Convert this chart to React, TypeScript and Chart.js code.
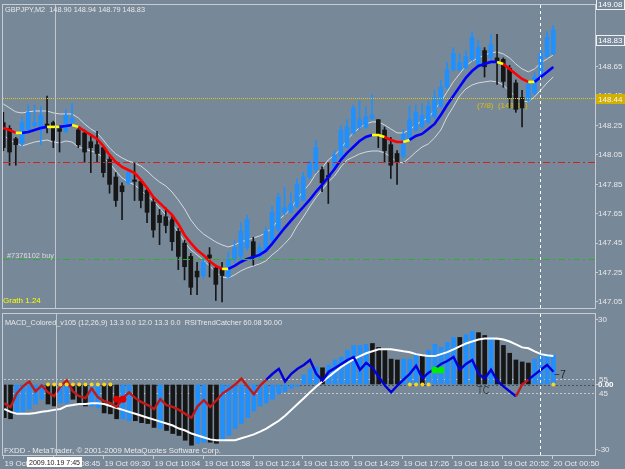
import React, { useEffect, useRef } from "react";
import { Chart, registerables } from "chart.js";

Chart.register(...registerables);

// ---------------- data ----------------
const opens = [148.27,148.23,148.16,148.13,148.22,148.25,148.22,148.26,148.27,148.23,
 148.21,148.27,148.22,148.20,148.14,148.12,148.10,148.02,147.90,147.84,
 147.86,147.88,147.87,147.81,147.73,147.64,147.63,147.61,147.53,147.45,
 147.36,147.26,147.23,147.37,147.28,147.28,147.22,147.34,147.36,147.42,
 147.46,147.36,147.40,147.47,147.54,147.66,147.66,147.70,147.74,147.90,
 147.95,147.95,147.91,147.97,148.04,148.10,148.20,148.24,148.24,148.30,
 148.29,148.22,148.12,148.06,148.04,148.15,148.22,148.24,148.27,148.31,
 148.38,148.51,148.63,148.63,148.64,148.70,148.66,148.76,148.71,148.71,
 148.70,148.64,148.54,148.44,148.42,148.47,148.58,148.72,148.74];
const highs = [148.34,148.25,148.17,148.31,148.39,148.39,148.38,148.45,148.28,148.25,
 148.36,148.40,148.23,148.22,148.19,148.21,148.10,148.04,147.93,147.86,
 147.95,148.00,147.88,147.83,147.76,147.68,147.69,147.64,147.55,147.47,
 147.38,147.32,147.35,147.42,147.30,147.32,147.39,147.47,147.59,147.64,
 147.49,147.45,147.56,147.70,147.79,147.83,147.79,147.89,147.93,148.01,
 148.15,147.97,148.00,148.08,148.25,148.29,148.39,148.42,148.38,148.46,
 148.29,148.24,148.17,148.08,148.22,148.38,148.39,148.40,148.42,148.49,
 148.56,148.68,148.78,148.74,148.76,148.89,148.83,148.78,148.87,148.87,
 148.71,148.66,148.56,148.49,148.55,148.61,148.78,148.89,148.93];
const lows = [148.08,147.98,147.98,148.11,148.20,148.24,148.12,148.20,148.10,148.07,
 148.20,148.25,148.10,148.00,147.93,148.00,147.90,147.79,147.70,147.61,
 147.85,147.74,147.69,147.59,147.49,147.44,147.52,147.40,147.27,147.20,
 147.10,147.10,147.21,147.22,147.06,147.05,147.21,147.32,147.34,147.40,
 147.30,147.35,147.39,147.46,147.53,147.64,147.66,147.69,147.74,147.89,
 147.93,147.80,147.72,147.96,148.03,148.10,148.19,148.22,148.23,148.29,
 148.10,148.00,147.89,147.85,148.03,148.15,148.21,148.23,148.26,148.30,
 148.37,148.50,148.62,148.62,148.64,148.69,148.66,148.58,148.70,148.53,
 148.51,148.37,148.34,148.24,148.41,148.46,148.57,148.71,148.73];
const closes = [148.10,148.07,148.12,148.27,148.34,148.27,148.32,148.25,148.15,148.21,
 148.32,148.30,148.12,148.07,148.10,148.06,147.93,147.85,147.74,147.80,
 147.93,147.87,147.74,147.66,147.54,147.59,147.57,147.46,147.36,147.29,
 147.15,147.22,147.32,147.35,147.17,147.23,147.34,147.42,147.53,147.61,
 147.36,147.42,147.53,147.66,147.76,147.69,147.72,147.85,147.90,148.00,
 148.10,147.86,147.90,148.05,148.22,148.24,148.37,148.29,148.31,148.32,
 148.19,148.08,147.98,148.00,148.19,148.29,148.34,148.32,148.38,148.44,
 148.51,148.63,148.74,148.68,148.72,148.85,148.78,148.65,148.80,148.68,
 148.55,148.44,148.36,148.37,148.53,148.58,148.74,148.85,148.90];

const maLine = [148.234,148.220,148.200,148.200,148.206,148.220,148.234,148.241,148.241,148.241,
 148.247,148.254,148.241,148.213,148.186,148.159,148.111,148.050,148.002,147.968,
 147.948,147.928,147.880,147.826,147.764,147.724,147.683,147.642,147.581,147.506,
 147.451,147.404,147.370,147.329,147.295,147.275,147.275,147.295,147.322,147.343,
 147.356,147.370,147.397,147.445,147.499,147.553,147.601,147.649,147.696,147.744,
 147.798,147.846,147.900,147.955,148.016,148.064,148.104,148.145,148.172,148.186,
 148.186,148.172,148.152,148.138,148.138,148.152,148.179,148.193,148.227,148.261,
 148.322,148.390,148.451,148.513,148.574,148.621,148.655,148.669,148.683,148.683,
 148.669,148.635,148.601,148.567,148.547,148.547,148.581,148.615,148.649];
// R = falling (red), B = rising (blue), Y = turn (yellow); one letter per segment
const maTrend = "RRYBBBBYYBBY" + "RRRRRRRRRRRRRRRRRRRRRRR" + "Y" + "BBBBBBBBBBBBBBBBBBBBBBB" + "YYRRRY" + "BBBBBBBBBBBBBB" + "YRRRRYBBB";
const bandUpper = [148.397,148.370,148.343,148.336,148.343,148.349,148.349,148.349,148.336,148.329,
 148.329,148.329,148.302,148.261,148.227,148.200,148.152,148.098,148.057,148.030,
 148.009,147.996,147.975,147.941,147.900,147.866,147.839,147.798,147.744,147.683,
 147.608,147.553,147.513,147.485,147.458,147.438,147.424,147.438,147.458,147.472,
 147.485,147.499,147.519,147.553,147.608,147.642,147.683,147.751,147.805,147.853,
 147.921,147.962,148.016,148.050,148.091,148.152,148.200,148.234,148.261,148.275,
 148.275,148.254,148.227,148.200,148.200,148.220,148.254,148.281,148.302,148.356,
 148.411,148.479,148.547,148.601,148.655,148.689,148.710,148.730,148.744,148.751,
 148.737,148.710,148.669,148.635,148.615,148.635,148.676,148.703,148.730];
const bandLower = [148.186,148.152,148.132,148.111,148.125,148.138,148.145,148.152,148.138,148.132,
 148.145,148.138,148.104,148.091,148.077,148.064,148.030,147.996,147.941,147.894,
 147.866,147.846,147.812,147.771,147.737,147.689,147.642,147.581,147.526,147.458,
 147.404,147.370,147.336,147.295,147.254,147.220,147.213,147.234,147.261,147.281,
 147.295,147.309,147.329,147.370,147.404,147.445,147.492,147.567,147.628,147.696,
 147.758,147.812,147.866,147.907,147.968,148.016,148.036,148.057,148.070,148.077,
 148.077,148.064,148.036,148.002,147.996,148.030,148.070,148.104,148.125,148.166,
 148.220,148.309,148.377,148.451,148.499,148.526,148.540,148.547,148.553,148.547,
 148.526,148.485,148.445,148.417,148.411,148.445,148.492,148.540,148.581];

const macdHist = [-15.3,-15.8,-13.5,-12.6,-11.3,-9.0,-6.8,-9.0,-9.9,-8.6,
 -8.6,-6.8,-8.6,-9.9,-9.9,-10.8,-13.1,-13.5,-15.8,-15.8,
 -16.7,-16.7,-17.6,-18.0,-19.8,-20.3,-21.2,-22.6,-23.5,-25.7,
 -28.0,-27.1,-26.6,-26.6,-27.1,-25.7,-23.5,-20.3,-18.0,-15.3,
 -12.2,-9.9,-8.6,-6.8,-4.5,-3.2,-1.8,-0.9,4.5,7.2,
 8.1,7.7,9.0,11.3,12.6,15.8,18.0,18.0,18.5,18.9,
 17.1,15.8,11.7,11.3,11.7,11.7,14.0,13.1,15.8,18.5,
 17.1,19.4,21.7,21.7,23.0,24.4,23.9,22.6,21.7,20.3,
 18.0,14.4,11.3,10.4,9.9,11.7,13.5,14.0,13.5];
// B = blue bar, K = black bar
const histColor = "KKBBBBBKKB" + "BKKKBBKKKB" + "BKKKKBKKKK" + "KBBKKBBBBB" + "BBBBBBBBBB" + "BKBBBBBBBK" + "KKKKBBBKBB" + "BBBKBBKKBK" + "KKKKKBBBB";
const macdSignal = [-11.3,-12.6,-13.5,-13.5,-13.5,-13.1,-12.6,-12.2,-11.7,-11.3,
 -9.9,-9.5,-9.0,-9.0,-8.6,-8.6,-9.0,-9.9,-10.8,-11.7,
 -12.6,-13.5,-14.4,-15.3,-16.2,-17.1,-18.0,-18.9,-20.3,-21.2,
 -22.6,-23.5,-24.4,-25.3,-25.7,-25.7,-25.7,-25.7,-24.8,-23.9,
 -23.0,-21.7,-20.3,-18.5,-16.7,-14.4,-11.7,-9.0,-6.3,-3.6,
 -0.9,1.4,3.6,5.9,8.1,9.9,11.7,13.1,14.4,15.3,
 16.2,16.2,16.2,15.8,15.3,14.9,14.0,13.5,13.1,13.1,
 14.0,14.9,16.2,17.6,18.9,19.8,20.7,21.2,21.2,21.2,
 20.7,19.8,18.5,17.1,16.7,15.3,14.0,13.5,13.1];
const rsiValues = [38.3,35.7,45.0,49.7,53.0,46.3,50.3,45.7,43.0,49.7,
 53.7,46.3,43.0,41.7,48.3,42.3,39.7,38.3,35.7,41.7,
 45.7,41.7,39.0,37.0,34.3,41.0,37.0,35.7,33.7,31.0,
 28.3,36.3,40.3,35.7,40.3,45.0,47.7,51.0,55.0,49.7,
 44.3,50.3,54.3,58.3,61.7,53.0,58.3,61.7,64.3,67.7,
 58.3,53.7,59.7,62.3,65.0,67.7,69.7,61.0,65.7,62.3,
 56.3,50.3,45.7,50.3,54.3,58.3,63.7,55.0,59.0,61.7,
 65.0,67.0,69.7,61.0,65.0,67.7,58.3,55.0,61.0,53.7,
 49.7,46.3,43.0,51.0,54.3,57.7,61.0,64.3,59.7];
const rsiTrend = "RRRRRRRRRRRRRRRRRRRRRRRRRRRRRRRRRRRRRRRRRR" + "BBBBBBBBBBBBBBBBBBBBBBBBBBBBBBBBBBBBBBBB" + "RR" + "BBBB";

const yellowDotIdx = [7, 8, 9, 10, 11, 12, 13, 14, 15, 16, 17, 65, 66, 67, 68, 88];
const greenDotIdx = [69, 70];
const greenDotRsi = [60.8, 60.8];
const redDotIdx = [18, 19];
const redDotRsi = [41.0, 41.0];

const priceTicks = [147.05, 147.25, 147.45, 147.65, 147.85, 148.05, 148.25, 148.45, 148.65, 148.85, 149.05];
const macdTicks = [-30, 0, 30];
const rsiLevels = [55, 45];
const timeTickIdx = [0, 8, 16, 24, 32, 40, 48, 56, 64, 72, 80, 88];
const timeLabels = ["19 Oct 07:13", "19 Oct 08:45", "19 Oct 09:30", "19 Oct 10:04", "19 Oct 10:58", "19 Oct 12:14",
  "19 Oct 13:05", "19 Oct 14:29", "19 Oct 17:26", "19 Oct 18:16", "19 Oct 20:52", "20 Oct 00:50"];

const boxPrices = [149.08, 148.83];
const bidLevel = 148.44;
const stopLevel = 148.0;
const orderLevel = 147.34;
const crossIdx = 8.3;
const nowIdx = 85.9;

// ---------------- styling ----------------
const BG = "#778899";
const FRAME = "#c8ccd2";
const AXIS_TEXT = "#e8e8e8";
const FONT = '"Liberation Sans", Arial, sans-serif';
const BULL = "#1e90ff";
const BEAR = "#161616";
const BAND = "#d6dadf";
const TREND: Record<string, string> = { R: "#ff0000", B: "#0000ff", Y: "#ffff00" };
const RSI_TREND: Record<string, string> = { R: "#c01a1a", B: "#0000dc" };

const X_MIN = -0.048;
const X_MAX = 94.672;
const P_MIN = 147.009;
const P_MAX = 149.07;
const M_MIN = -32.5;
const M_MAX = 32.5;
const R_MIN = 3;
const R_MAX = 99;

const pts = (arr: number[]) => arr.map((v, i) => ({ x: i, y: v }));

function hLine(ctx: any, a: any, y: number, color: string, dash: number[]) {
  ctx.save();
  ctx.beginPath();
  ctx.setLineDash(dash);
  ctx.strokeStyle = color;
  ctx.lineWidth = 1;
  const yy = Math.round(y) + 0.5;
  ctx.moveTo(a.left, yy);
  ctx.lineTo(a.right, yy);
  ctx.stroke();
  ctx.restore();
}
function vLine(ctx: any, x: number, top: number, bottom: number, color: string, dash: number[]) {
  ctx.save();
  ctx.beginPath();
  ctx.setLineDash(dash);
  ctx.strokeStyle = color;
  ctx.lineWidth = 1;
  const xx = Math.round(x) + 0.5;
  ctx.moveTo(xx, top);
  ctx.lineTo(xx, bottom);
  ctx.stroke();
  ctx.restore();
}
function txt(ctx: any, s: string, x: number, y: number, color: string, size: number, maxW?: number, weight = "normal") {
  ctx.save();
  ctx.font = `${weight} ${size}px ${FONT}`;
  ctx.fillStyle = color;
  ctx.textAlign = "left";
  ctx.textBaseline = "alphabetic";
  if (maxW) ctx.fillText(s, x, y, maxW);
  else ctx.fillText(s, x, y);
  ctx.restore();
}

const mainDecor = {
  id: "mainDecor",
  beforeDatasetsDraw(chart: any) {
    const { ctx, scales } = chart;
    txt(ctx, "(7/8)  (148.44)", scales.x.getPixelForValue(75.8), scales.y.getPixelForValue(bidLevel) + 10, "#dcc000", 8, 52);
  },
  afterDatasetsDraw(chart: any) {
    const { ctx, chartArea: a, scales } = chart;
    const { x, y } = scales;
    hLine(ctx, a, y.getPixelForValue(bidLevel), "#e8c800", [1, 1]);
    hLine(ctx, a, y.getPixelForValue(stopLevel), "#d42020", [7, 3, 2, 3]);
    hLine(ctx, a, y.getPixelForValue(orderLevel), "#2cb02c", [7, 3, 2, 3]);
    vLine(ctx, x.getPixelForValue(crossIdx), a.top, a.bottom, "#c0c6cc", []);
    vLine(ctx, x.getPixelForValue(nowIdx), a.top, a.bottom, "#ffffff", [3, 3]);
    ctx.save();
    ctx.strokeStyle = FRAME;
    ctx.lineWidth = 1;
    ctx.strokeRect(2.5, a.top - 0.5, a.right - 2, a.bottom - a.top + 1);
    ctx.restore();
    txt(ctx, "GBPJPY,M2  148.90 148.94 148.79 148.83", 5, 12, AXIS_TEXT, 8, 140);
    txt(ctx, "#7376102 buy", 7, y.getPixelForValue(orderLevel) - 1, "#dcdcdc", 8, 47);
    txt(ctx, "Grath 1.24", 3, a.bottom - 5, "#ffff00", 8, 39);
  },
  afterDraw(chart: any) {
    const { ctx, chartArea: a, scales } = chart;
    const y = scales.y;
    ctx.save();
    for (const p of boxPrices) {
      const py = Math.round(y.getPixelForValue(p));
      ctx.fillStyle = BG;
      ctx.fillRect(a.right + 1, py - 5, 29, 10);
      ctx.strokeStyle = "#f0f0f0";
      ctx.strokeRect(a.right + 1.5, py - 4.5, 28, 10);
      txt(ctx, p.toFixed(2), a.right + 3, py + 3, "#ffffff", 8, 25);
    }
    const by = Math.round(y.getPixelForValue(bidLevel)) + 1;
    ctx.fillStyle = "#d2b000";
    ctx.fillRect(a.right + 1, by - 5, 29, 10);
    txt(ctx, bidLevel.toFixed(2), a.right + 3, by + 3, "#f4f4f4", 8, 25);
    ctx.restore();
  },
};

const lowerDecor = {
  id: "lowerDecor",
  beforeDatasetsDraw(chart: any) {
    const { ctx, chartArea: a, scales } = chart;
    for (const r of rsiLevels) hLine(ctx, a, scales.y2.getPixelForValue(r), "#c4c8cc", [2, 2]);
    hLine(ctx, a, scales.y.getPixelForValue(0), "#4a5058", [2, 2]);
  },
  afterDatasetsDraw(chart: any) {
    const { ctx, chartArea: a, scales, height } = chart;
    const { x, y2 } = scales;
    vLine(ctx, x.getPixelForValue(crossIdx), a.top, a.bottom, "#c0c6cc", []);
    vLine(ctx, x.getPixelForValue(nowIdx), a.top, a.bottom, "#ffffff", [3, 3]);
    txt(ctx, "TC", x.getPixelForValue(75.8), y2.getPixelForValue(45) + 1, "#3a3a3a", 10, 12);
    txt(ctx, "\u22127", x.getPixelForValue(88) + 1, y2.getPixelForValue(rsiValues[88]) + 6, "#202020", 10);
    ctx.save();
    ctx.strokeStyle = FRAME;
    ctx.lineWidth = 1;
    ctx.strokeRect(2.5, a.top - 0.5, a.right - 2, a.bottom - a.top + 1);
    ctx.restore();
    txt(ctx, "MACD_Colored_v105 (12,26,9) 13.3 0.0 12.0 13.3 0.0  RSITrendCatcher 60.08 50.00", 5, a.top + 11, AXIS_TEXT, 8, 277);
    txt(ctx, "FXDD - MetaTrader, \u00a9 2001-2009 MetaQuotes Software Corp.", 4, a.bottom - 2, AXIS_TEXT, 8, 217);
    for (const r of rsiLevels) txt(ctx, String(r), a.right + 4, y2.getPixelForValue(r) + 3, AXIS_TEXT, 8);
    // time axis
    ctx.save();
    ctx.strokeStyle = FRAME;
    ctx.lineWidth = 1;
    timeTickIdx.forEach((bi, k) => {
      const tx = Math.round(x.getPixelForValue(bi) - 1.3) + 0.5;
      ctx.beginPath();
      ctx.moveTo(tx, a.bottom);
      ctx.lineTo(tx, a.bottom + 4);
      ctx.stroke();
      txt(ctx, timeLabels[k], tx + 1, height - 3.5, AXIS_TEXT, 8);
    });
    ctx.fillStyle = "#ffffff";
    ctx.fillRect(27, a.bottom + 2, 55, 10);
    ctx.restore();
    txt(ctx, "2009.10.19 7:45", 29, height - 4, "#1a1a1a", 8, 51);
  },
};

export default function App() {
  const topRef = useRef<HTMLCanvasElement>(null);
  const botRef = useRef<HTMLCanvasElement>(null);

  useEffect(() => {
    const candleColors = closes.map((c, i) => (c >= opens[i] ? BULL : BEAR));
    const common = {
      animation: false,
      responsive: false,
      maintainAspectRatio: false,
      devicePixelRatio: 1,
      events: [],
      plugins: { legend: { display: false }, tooltip: { enabled: false } },
    };
    const main = new Chart(topRef.current as HTMLCanvasElement, {
      type: "bar",
      data: {
        datasets: [
          { type: "line", data: pts(bandUpper), borderColor: BAND, borderWidth: 1, pointRadius: 0, order: 3 },
          { type: "line", data: pts(bandLower), borderColor: BAND, borderWidth: 1, pointRadius: 0, order: 3 },
          {
            type: "bar",
            data: lows.map((l, i) => ({ x: i, y: [l, highs[i]] })),
            backgroundColor: candleColors,
            grouped: false,
            maxBarThickness: 1,
            categoryPercentage: 1,
            barPercentage: 1,
            order: 2,
          },
          {
            type: "bar",
            data: opens.map((o, i) => ({ x: i, y: [o, closes[i]] })),
            backgroundColor: candleColors,
            grouped: false,
            maxBarThickness: 4,
            categoryPercentage: 1,
            barPercentage: 1,
            minBarLength: 1,
            order: 1,
          },
          {
            type: "line",
            data: pts(maLine),
            borderColor: TREND.B,
            borderWidth: 2.6,
            pointRadius: 0,
            segment: { borderColor: (c: any) => TREND[maTrend[c.p0DataIndex]] },
            order: 0,
          },
        ],
      } as any,
      options: {
        ...common,
        layout: { padding: { left: 3, right: 0, top: 5, bottom: 2 } },
        scales: {
          x: { type: "linear", min: X_MIN, max: X_MAX, display: false, offset: false },
          y: {
            position: "right",
            min: P_MIN,
            max: P_MAX,
            afterFit: (s: any) => { s.width = 30; s.paddingTop = 0; s.paddingBottom = 0; },
            afterBuildTicks: (s: any) => { s.ticks = priceTicks.map((v) => ({ value: v })); },
            ticks: { color: AXIS_TEXT, font: { family: FONT, size: 8 }, padding: 0, autoSkip: false, callback: (v: any) => Number(v).toFixed(2) },
            grid: { drawOnChartArea: false, tickLength: 3, color: FRAME },
            border: { color: FRAME },
          },
        },
      } as any,
      plugins: [mainDecor],
    });

    const lower = new Chart(botRef.current as HTMLCanvasElement, {
      type: "bar",
      data: {
        datasets: [
          {
            type: "bar",
            data: pts(macdHist),
            backgroundColor: histColor.split("").map((c) => (c === "B" ? BULL : BEAR)),
            grouped: false,
            maxBarThickness: 4,
            categoryPercentage: 1,
            barPercentage: 1,
            yAxisID: "y",
            order: 4,
          },
          { type: "line", data: pts(macdSignal), borderColor: "#ffffff", borderWidth: 2, pointRadius: 0, yAxisID: "y", order: 3 },
          {
            type: "line",
            data: pts(rsiValues),
            borderColor: RSI_TREND.B,
            borderWidth: 2.4,
            pointRadius: 0,
            yAxisID: "y2",
            segment: { borderColor: (c: any) => RSI_TREND[rsiTrend[c.p0DataIndex]] },
            order: 2,
          },
          {
            type: "line",
            showLine: false,
            data: yellowDotIdx.map((i) => ({ x: i, y: 0 })),
            pointRadius: 2,
            pointBorderWidth: 0,
            pointBackgroundColor: "#ffd21f",
            yAxisID: "y",
            order: 0,
          },
          {
            type: "line",
            showLine: false,
            data: greenDotIdx.map((i, k) => ({ x: i, y: greenDotRsi[k] })),
            pointRadius: 3.5,
            pointBorderWidth: 0,
            pointBackgroundColor: "#00ee00",
            yAxisID: "y2",
            order: 0,
          },
          {
            type: "line",
            showLine: false,
            data: redDotIdx.map((i, k) => ({ x: i, y: redDotRsi[k] })),
            pointRadius: 3.5,
            pointBorderWidth: 0,
            pointBackgroundColor: "#dd0000",
            yAxisID: "y2",
            order: 0,
          },
        ],
      } as any,
      options: {
        ...common,
        layout: { padding: { left: 3, right: 0, top: 1, bottom: 14 } },
        scales: {
          x: { type: "linear", min: X_MIN, max: X_MAX, display: false, offset: false },
          y: {
            position: "right",
            min: M_MIN,
            max: M_MAX,
            afterFit: (s: any) => { s.width = 30; s.paddingTop = 0; s.paddingBottom = 0; },
            afterBuildTicks: (s: any) => { s.ticks = macdTicks.map((v) => ({ value: v })); },
            ticks: {
              color: (c: any) => (c.tick && c.tick.value === 0 ? "#ffffff" : AXIS_TEXT),
              font: (c: any) => ({ family: FONT, size: 8, weight: c.tick && c.tick.value === 0 ? "bold" : "normal" }),
              padding: 0,
              autoSkip: false,
              callback: (v: any) => (Number(v) === 0 ? "0.00" : String(v)),
            },
            grid: { drawOnChartArea: false, tickLength: 3, color: FRAME },
            border: { color: FRAME },
          },
          y2: { type: "linear", display: false, min: R_MIN, max: R_MAX },
        },
      } as any,
      plugins: [lowerDecor],
    });

    return () => {
      main.destroy();
      lower.destroy();
    };
  }, []);

  return (
    <div style={{ position: "fixed", left: 0, top: 0, width: 625, height: 469, background: BG, overflow: "hidden" }}>
      <canvas ref={topRef} width={625} height={310} style={{ position: "absolute", left: 0, top: 0, width: 625, height: 310 }} />
      <canvas ref={botRef} width={625} height={159} style={{ position: "absolute", left: 0, top: 310, width: 625, height: 159 }} />
    </div>
  );
}
